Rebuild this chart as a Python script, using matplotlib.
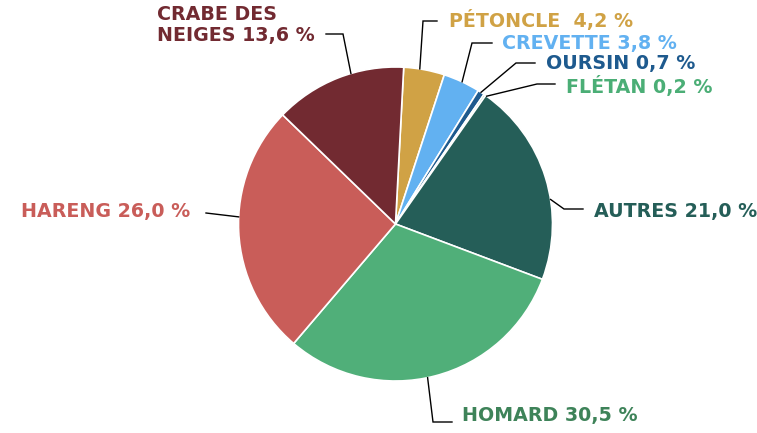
import numpy as np
import matplotlib
matplotlib.use("Agg")
import matplotlib.pyplot as plt

# data
species = ["PÉTONCLE", "CREVETTE", "OURSIN", "FLÉTAN", "AUTRES",
           "HOMARD", "HARENG", "CRABE DES\nNEIGES"]
shares = [4.2, 3.8, 0.7, 0.2, 21.0, 30.5, 26.0, 13.6]
label_texts = ["PÉTONCLE  4,2 %", "CREVETTE 3,8 %", "OURSIN 0,7 %", "FLÉTAN 0,2 %",
               "AUTRES 21,0 %", "HOMARD 30,5 %", "HARENG 26,0 %", "CRABE DES\nNEIGES 13,6 %"]
slice_colors = ["#D0A245", "#62B1F1", "#1E5A8E", "#4BAE76",
                "#255E58", "#50AF79", "#C95D59", "#722A31"]
text_colors = ["#D0A245", "#62B1F1", "#1E5A8E", "#4BAE76",
               "#255E58", "#3E8359", "#C95D59", "#722A31"]

# layout (pixel space, y downward)
W, H = 757, 433
cx, cy, R = 395.5, 224, 157
# angle (deg clockwise from top) where each leader touches the pie, elbow, text anchor
leader_ang = [8.9, 25.1, 33.0, 35.5, 81.0, 168.2, 272.6, 343.5]
elbows = [(423, 21), (472, 43), (516, 63), (537, 84), (564, 209), (433, 422), (206, 213), (343, 34)]
ends = [(437, 21), (492, 43), (535, 63), (555, 84), (583, 209), (452, 422), (206, 213), (326, 34)]
text_pos = [(449, 20), (502, 43), (546, 63), (566, 86), (594, 212), (462, 415), (21, 212), (157, 25)]

fig = plt.figure(figsize=(W / 100, H / 100), dpi=100)
ax = fig.add_axes([0, 0, 1, 1])

# y axis is inverted, so counterclock=True in data space is clockwise on screen
ax.pie(shares, colors=slice_colors, center=(cx, cy), radius=R,
       startangle=-87, counterclock=True,
       wedgeprops=dict(edgecolor="white", linewidth=1.2))

for i, lab in enumerate(label_texts):
    a = np.deg2rad(leader_ang[i])
    px = cx + R * np.sin(a)
    py = cy - R * np.cos(a)
    ex, ey = elbows[i]
    fx, fy = ends[i]
    ax.plot([px, ex, fx], [py, ey, fy], color="black", lw=1.0,
            solid_joinstyle="miter", zorder=3)
    tx, ty = text_pos[i]
    ax.text(tx, ty, lab, color=text_colors[i], fontsize=13.7, fontweight="bold",
            family="DejaVu Sans", ha="left", va="center", linespacing=1.1)

ax.set_xlim(0, W)
ax.set_ylim(H, 0)
ax.set_aspect("equal", adjustable="box")
ax.axis("off")

fig.savefig("out.png", dpi=100, facecolor="white")
